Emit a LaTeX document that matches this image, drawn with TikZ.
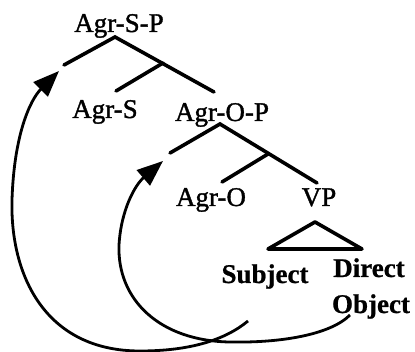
\documentclass[tikz,border=0pt]{standalone}
\usepackage{fontspec}
\setmainfont{Liberation Serif}
\newfontfamily\heavyrm[FakeBold=1.3]{Liberation Serif}
\newfontfamily\heavybf[FakeBold=0.8]{Liberation Serif Bold}
\usetikzlibrary{arrows.meta}
\begin{document}
\begin{tikzpicture}[x=1pt,y=-1pt,
  lbl/.style={font=\fontsize{27}{30}\heavyrm, inner sep=0pt, anchor=base},
  blbl/.style={font=\fontsize{27}{30}\heavybf, inner sep=0pt, anchor=base},
  branch/.style={line width=3.6pt, line cap=round},
  mv/.style={line width=2.8pt, -{Triangle[length=26pt,width=20pt]}}]
\useasboundingbox (0,0) rectangle (415,352);
% labels
\node[lbl] (asp) at (119,32) {Agr-S-P};
\node[lbl] (as) at (105,118) {Agr-S};
\node[lbl] (aop) at (222,121) {Agr-O-P};
\node[lbl] (ao) at (211,206) {Agr-O};
\node[lbl] (vp) at (319,206) {VP};
\node[blbl] (subj) at (265,283) {Subject};
\node[blbl] (dir) at (369,277) {Direct};
\node[blbl] (obj) at (371,313) {Object};
% tree points
\coordinate (t1) at (115,37);
\coordinate (s1) at (64,65);
\coordinate (j1) at (163,63);
\coordinate (e1) at (116,91);
\coordinate (r1) at (214,92);
\coordinate (t2) at (220,124);
\coordinate (s2) at (170,153);
\coordinate (j2) at (268,154);
\coordinate (e2) at (222,182);
\coordinate (r2) at (317,183);
\coordinate (vt) at (315,222);
\coordinate (vl) at (268,249);
\coordinate (vr) at (362,249);
\draw[branch] (s1) -- (t1) -- (r1);
\draw[branch] (j1) -- (e1);
\draw[branch] (s2) -- (t2) -- (r2);
\draw[branch] (j2) -- (e2);
\draw[branch, line join=round] (vt) -- (vl) -- (vr) -- cycle;
% movement arrows
\coordinate (m1) at (248,321);
\coordinate (g1) at (59,71);
\coordinate (m2) at (350,315);
\coordinate (g2) at (163,161);
\draw[mv] (m1) .. controls (225,340) and (190,351) .. (140,351)
  .. controls (45,351) and (10,275) .. (12,200)
  .. controls (14,135) and (30,100) .. (g1);
\draw[mv] (m2) .. controls (330,335) and (280,343) .. (230,342)
  .. controls (160,341) and (117,300) .. (119,245)
  .. controls (121,210) and (135,185) .. (g2);
\end{tikzpicture}
\end{document}
